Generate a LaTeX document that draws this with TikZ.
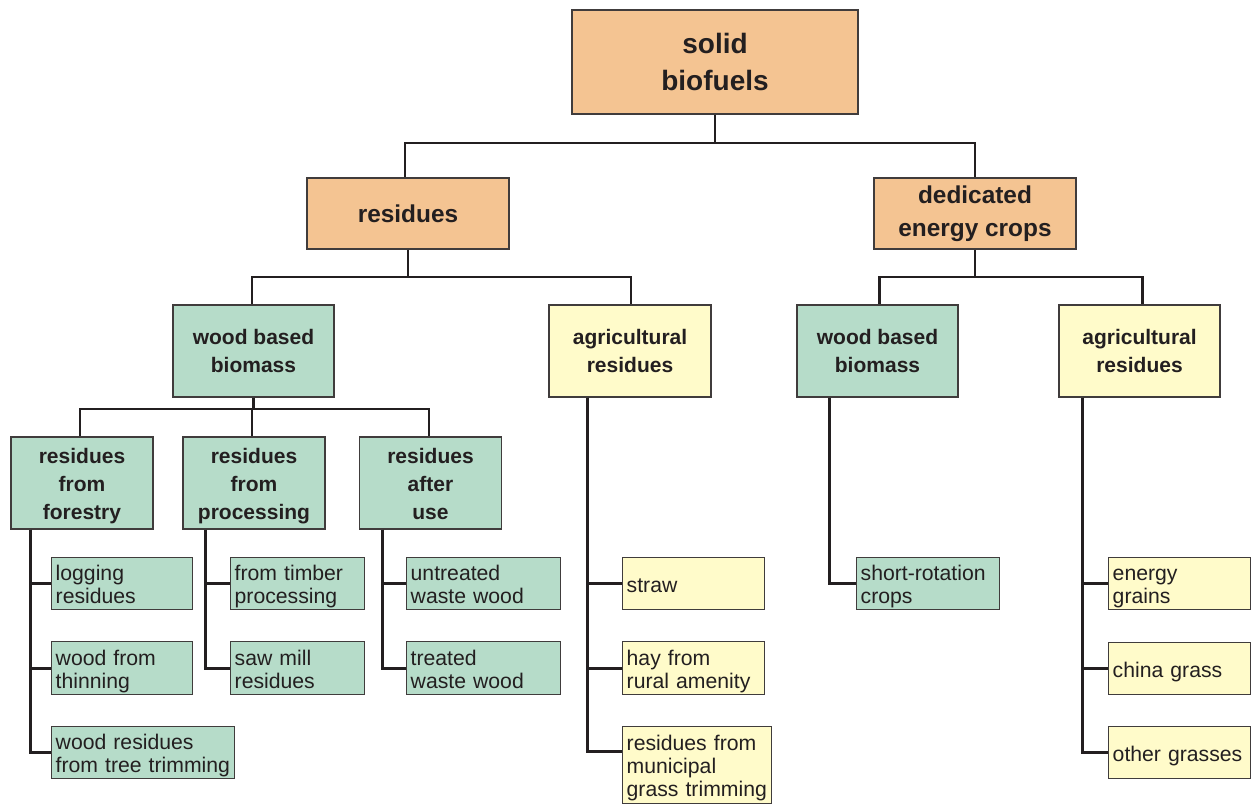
\documentclass[tikz,border=0pt]{standalone}
\usepackage{fontspec}
\setmainfont{Liberation Sans}
\usetikzlibrary{calc}
\hyphenpenalty=10000
\exhyphenpenalty=10000
\definecolor{orangebox}{RGB}{244,196,146}
\definecolor{greenbox}{RGB}{182,220,201}
\definecolor{yellowbox}{RGB}{255,251,202}
\definecolor{edgegray}{RGB}{64,60,60}
\definecolor{linedark}{RGB}{35,31,32}
\tikzset{
 x=0.5pt, y=-0.5pt,
 box/.style={draw=edgegray, line width=0.7pt, inner sep=0pt, align=center, text=linedark},
 topfont/.style={font=\fontsize{14}{18.5}\selectfont\bfseries},
 midfont/.style={font=\fontsize{12.2}{16.5}\selectfont\bfseries},
 lowfont/.style={font=\fontsize{10.5}{14}\selectfont\bfseries},
 lowbox/.style={box, lowfont, text width=71pt, minimum height=46pt,
   execute at begin node={\rule[-4.5pt]{0pt}{17.5pt}}, execute at end node={\rule[-4.5pt]{0pt}{4.5pt}}},
 leaf/.style={draw=edgegray, line width=0.7pt, align=left, anchor=north west, inner xsep=2pt, inner ysep=0pt, text width=#1,
   font=\fontsize{10.6}{11.4}\selectfont, text=linedark,
   execute at begin node={\rule[-3pt]{0pt}{14.4pt}}, execute at end node={\rule[-3pt]{0pt}{3pt}}},
 conn/.style={draw=linedark, line width=1.45pt},
}
\begin{document}
\begin{tikzpicture}
\useasboundingbox (0,0) rectangle (1252,805);
% main boxes
\node[box, topfont, fill=orangebox, minimum width=143pt, minimum height=52pt] (top) at (715,62) {solid\\biofuels};
\node[box, midfont, fill=orangebox, minimum width=101pt, minimum height=35.5pt] (residues) at (408,213.5) {residues};
\node[box, midfont, fill=orangebox, minimum width=101pt, minimum height=35.5pt] (dedicated) at (975,213.5) {dedicated\\energy crops};
\node[box, lowfont, fill=greenbox, minimum width=80.5pt, minimum height=46pt] (wbbL) at (253.5,351) {wood based\\biomass};
\node[box, lowfont, fill=yellowbox, minimum width=81pt, minimum height=46pt] (agriL) at (630,351) {agricultural\\residues};
\node[box, lowfont, fill=greenbox, minimum width=80.5pt, minimum height=46pt] (wbbR) at (877.5,351) {wood based\\biomass};
\node[box, lowfont, fill=yellowbox, minimum width=80.5pt, minimum height=46pt] (agriR) at (1139.5,351) {agricultural\\residues};
\node[lowbox, fill=greenbox] (forestry) at (82,483) {residues\\from\\forestry};
\node[lowbox, fill=greenbox] (processing) at (254,483) {residues\\from\\processing};
\node[lowbox, fill=greenbox] (afteruse) at (430.5,483) {residues\\after\\use};
% leaves
\node[leaf=66.5pt, fill=greenbox, minimum height=26pt] (logging) at (51,557) {logging\\residues};
\node[leaf=66.5pt, fill=greenbox, minimum height=26.5pt] (thinning) at (51,641) {wood~from\\thinning};
\node[leaf=87.5pt, fill=greenbox, minimum height=26pt] (trimming) at (51,726) {wood~residues\\\mbox{from tree trimming}};
\node[leaf=63pt, fill=greenbox, minimum height=26pt] (timber) at (230,557) {from~timber\\processing};
\node[leaf=63pt, fill=greenbox, minimum height=26.5pt] (sawmill) at (230,641) {saw~mill\\residues};
\node[leaf=73pt, fill=greenbox, minimum height=26pt] (untreated) at (406,557) {untreated\\waste~wood};
\node[leaf=73pt, fill=greenbox, minimum height=26.5pt] (treated) at (406,641) {treated\\waste~wood};
\node[leaf=67pt, fill=yellowbox, minimum height=26pt] (straw) at (622,557) {straw};
\node[leaf=67pt, fill=yellowbox, minimum height=26.5pt] (hay) at (622,641) {hay~from\\rural~amenity};
\node[leaf=70.5pt, fill=yellowbox, minimum height=38.5pt] (municipal) at (622,726) {residues~from\\municipal\\\mbox{grass trimming}};
\node[leaf=67.5pt, fill=greenbox, minimum height=26pt] (shortrot) at (856,557) {short-rotation\\crops};
\node[leaf=67pt, fill=yellowbox, minimum height=26pt] (grains) at (1108,557) {energy\\grains};
\node[leaf=67pt, fill=yellowbox, minimum height=26pt] (china) at (1108,642) {china~grass};
\node[leaf=67pt, fill=yellowbox, minimum height=26pt] (other) at (1108,726) {other~grasses};
% junctions
\coordinate (j0) at (715,143);
\coordinate (j1) at (408,277);
\coordinate (j2) at (975,277);
\coordinate (j3) at (253.5,409);
\draw[conn] (top.south) -- (j0);
\draw[conn] (j0) -| ([xshift=-1.5pt]residues.north);
\draw[conn] (j0) -| (dedicated.north);
\draw[conn] (residues.south) -- (j1);
\draw[conn] (j1) -| ([xshift=-0.75pt]wbbL.north);
\draw[conn] (j1) -| ([xshift=0.5pt]agriL.north);
\draw[conn] (dedicated.south) -- (j2);
\draw[conn] (j2) -| ([xshift=1pt]wbbR.north);
\draw[conn] (j2) -| ([xshift=1.5pt]agriR.north);
\draw[conn] (wbbL.south) -- (j3);
\draw[conn] (j3) -| ([xshift=-1pt]forestry.north);
\draw[conn] (j3) -| ([xshift=-1pt]processing.north);
\draw[conn] (j3) -| ([xshift=-0.75pt]afteruse.north);
% spines
\draw[conn] ([xshift=10pt]forestry.south west) |- (logging.west);
\draw[conn] ([xshift=10pt]forestry.south west) |- (thinning.west);
\draw[conn] ([xshift=10pt]forestry.south west) |- (trimming.west);
\draw[conn] ([xshift=11.5pt]processing.south west) |- (timber.west);
\draw[conn] ([xshift=11.5pt]processing.south west) |- (sawmill.west);
\draw[conn] ([xshift=11.75pt]afteruse.south west) |- (untreated.west);
\draw[conn] ([xshift=11.75pt]afteruse.south west) |- (treated.west);
\draw[conn] ([xshift=19.5pt]agriL.south west) |- (straw.west);
\draw[conn] ([xshift=19.5pt]agriL.south west) |- (hay.west);
\draw[conn] ([xshift=19.5pt]agriL.south west) |- ([yshift=7pt]municipal.west);
\draw[conn] ([xshift=16.5pt]wbbR.south west) |- (shortrot.west);
\draw[conn] ([xshift=12pt]agriR.south west) |- (grains.west);
\draw[conn] ([xshift=12pt]agriR.south west) |- (china.west);
\draw[conn] ([xshift=12pt]agriR.south west) |- (other.west);
\end{tikzpicture}
\end{document}
